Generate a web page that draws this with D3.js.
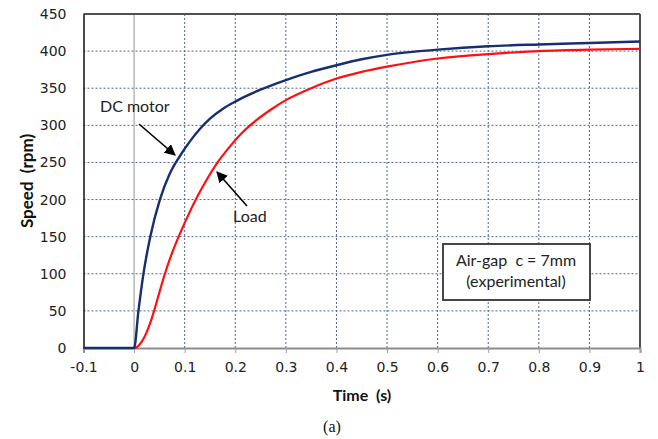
<!DOCTYPE html>
<html><head><meta charset="utf-8">
<script src="https://cdn.jsdelivr.net/npm/d3@7"></script>
<style>body{margin:0;background:#fff}svg{display:block}text{white-space:pre}</style>
</head><body>
<svg id="c" width="658" height="439"></svg>
<script>
const xTicks = [-0.1,0,0.1,0.2,0.3,0.4,0.5,0.6,0.7,0.8,0.9,1];
const xTickLabels = ["-0.1","0","0.1","0.2","0.3","0.4","0.5","0.6","0.7","0.8","0.9","1"];
const yTicks = [0,50,100,150,200,250,300,350,400,450];
const dcTime  = [-0.1,0,0.0086,0.0185,0.032,0.051,0.07,0.09,0.11,0.13,0.15,0.175,0.2,0.25,0.3,0.35,0.4,0.45,0.5,0.55,0.6,0.65,0.7,0.8,0.9,1.0];
const dcSpeed = [0,0,50,100,150,200,234,258,278,295,309,322,332,348,361,372,381,389,395,399,402,404.5,406.5,409,411,413];
const loadTime  = [-0.1,0,0.005,0.01,0.02,0.03,0.04,0.05,0.06,0.075,0.09,0.105,0.122,0.142,0.165,0.19,0.215,0.24,0.27,0.3,0.35,0.4,0.45,0.5,0.55,0.6,0.7,0.8,0.9,1.0];
const loadSpeed = [0,0,1,4,14,30,51,75,98,128,153,176,200,225,250,272,291,306,321,334,350,363,372,379,385,390,396,400,402,403];

const svg = d3.select("#c");
const x = d3.scaleLinear().domain([-0.1,1]).range([83.5,640]);
const y = d3.scaleLinear().domain([0,450]).range([348,14]);
const gridCol = "#4f6596";

// gridlines
const g = svg.append("g");
g.selectAll(".hg").data(yTicks.filter(v=>v>0&&v<450)).join("line")
  .attr("x1",x(-0.1)).attr("x2",x(1)).attr("y1",d=>y(d)).attr("y2",d=>y(d))
  .attr("stroke",gridCol).attr("stroke-width",1).attr("stroke-dasharray","2,2");
g.selectAll(".vg").data(xTicks.filter(v=>v>0.05&&v<0.95)).join("line")
  .attr("y1",y(0)).attr("y2",y(450)).attr("x1",d=>x(d)).attr("x2",d=>x(d))
  .attr("stroke",gridCol).attr("stroke-width",1).attr("stroke-dasharray","2,2");
g.append("line").attr("x1",x(0)).attr("x2",x(0)).attr("y1",y(0)).attr("y2",y(450))
  .attr("stroke","#a6a6a6").attr("stroke-width",1.2);

// frame
svg.append("line").attr("x1",x(-0.1)).attr("x2",x(1)).attr("y1",y(450)).attr("y2",y(450)).attr("stroke","#505050").attr("stroke-width",2);
svg.append("line").attr("x1",x(1)).attr("x2",x(1)).attr("y1",y(450)).attr("y2",y(0)).attr("stroke","#505050").attr("stroke-width",2);

// x axis
const xAxis = d3.axisBottom(x).tickValues(xTicks).tickFormat((d,i)=>xTickLabels[i]).tickSize(5).tickPadding(9);
const xa = svg.append("g").attr("transform",`translate(0,${y(0)})`).call(xAxis);
xa.select(".domain").attr("stroke","#8c8c8c").attr("stroke-width",2);
xa.selectAll(".tick line").attr("stroke","#a0a0a0");
xa.selectAll("text").attr("font-family","DejaVu Sans").attr("font-size",14).attr("fill","#222");

// y axis
const yAxis = d3.axisLeft(y).tickValues(yTicks).tickSize(0).tickPadding(17);
const ya = svg.append("g").attr("transform",`translate(${x(-0.1)},0)`).call(yAxis);
ya.select(".domain").attr("stroke","#111").attr("stroke-width",1.5);
ya.selectAll("text").attr("font-family","DejaVu Sans").attr("font-size",14).attr("fill","#222");

// lines
const line = d3.line().curve(d3.curveMonotoneX);
svg.append("path").attr("d",line(loadTime.map((t,i)=>[x(t),y(loadSpeed[i])])))
  .attr("fill","none").attr("stroke","#ff1010").attr("stroke-width",2.2);
svg.append("path").attr("d",line(dcTime.map((t,i)=>[x(t),y(dcSpeed[i])])))
  .attr("fill","none").attr("stroke","#16306f").attr("stroke-width",2.4);

// axis titles
svg.append("text").attr("x",362).attr("y",401).attr("text-anchor","middle")
  .attr("font-family","Lato").attr("font-weight","bold").attr("font-size",16).attr("fill","#111").text("Time  (s)");
svg.append("text").attr("transform","translate(33,181) rotate(-90)").attr("text-anchor","middle")
  .attr("font-family","Lato").attr("font-weight","bold").attr("font-size",17).attr("fill","#111").text("Speed  (rpm)");
svg.append("text").attr("x",332).attr("y",432).attr("text-anchor","middle")
  .attr("font-family","Liberation Serif").attr("font-size",16).attr("fill","#111").text("(a)");

// annotations
const defs = svg.append("defs");
defs.append("marker").attr("id","ah").attr("viewBox","0 0 10 10").attr("refX",9).attr("refY",5)
  .attr("markerWidth",7).attr("markerHeight",7).attr("orient","auto")
  .append("path").attr("d","M0,0 L10,5 L0,10 z").attr("fill","#000");
svg.append("text").attr("x",100).attr("y",112).attr("font-family","Lato").attr("font-size",16).attr("fill","#222").text("DC motor");
svg.append("line").attr("x1",139).attr("y1",124).attr("x2",175).attr("y2",155)
  .attr("stroke","#000").attr("stroke-width",1.6).attr("marker-end","url(#ah)");
svg.append("text").attr("x",233).attr("y",222).attr("font-family","Lato").attr("font-size",16).attr("fill","#222").text("Load");
svg.append("line").attr("x1",247).attr("y1",206).attr("x2",217).attr("y2",172)
  .attr("stroke","#000").attr("stroke-width",1.6).attr("marker-end","url(#ah)");

svg.append("rect").attr("x",443).attr("y",244).attr("width",147).attr("height",56)
  .attr("fill","#fff").attr("stroke","#333").attr("stroke-width",1.8);
svg.append("text").attr("x",516).attr("y",266).attr("text-anchor","middle").attr("font-family","Lato").attr("font-size",16).attr("fill","#222").text("Air-gap  c = 7mm");
svg.append("text").attr("x",516).attr("y",287).attr("text-anchor","middle").attr("font-family","Lato").attr("font-size",16).attr("fill","#222").text("(experimental)");
</script>
</body></html>
